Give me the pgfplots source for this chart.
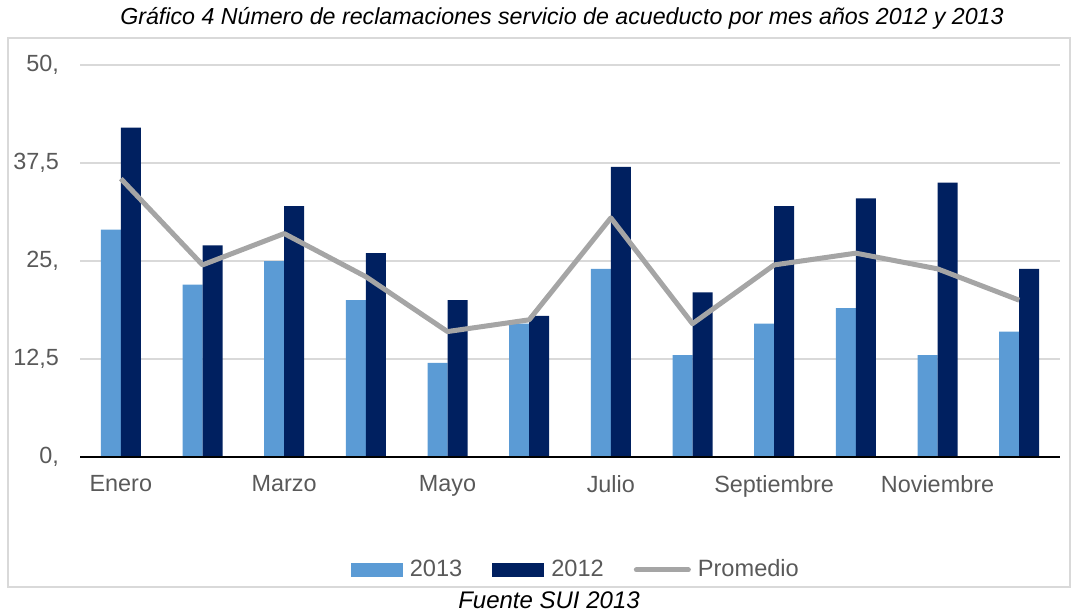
\documentclass[border=0pt]{standalone}
\usepackage{fontspec}
\setmainfont{Liberation Sans}
\usepackage{pgfplots}
\pgfplotsset{compat=1.18}
\definecolor{c2013}{RGB}{91,155,213}
\definecolor{c2012}{RGB}{0,32,96}
\definecolor{cprom}{RGB}{165,165,165}
\definecolor{cgrid}{RGB}{217,217,217}
\definecolor{ctxt}{RGB}{89,89,89}
\pgfplotstableread{
x y2013 y2012 prom
0 29 42 35.5
1 22 27 24.5
2 25 32 28.5
3 20 26 23
4 12 20 16
5 17 18 17.5
6 24 37 30.5
7 13 21 17
8 17 32 24.5
9 19 33 26
10 13 35 24
11 16 24 20
}\datatable
\begin{document}
\begin{tikzpicture}[x=0.5pt,y=0.5pt]
\path[use as bounding box] (0,0) rectangle (1079,611);
\draw[cgrid, line width=0.6pt] (8,573) rectangle (1070,24);
\node[font=\itshape\fontsize{11.6}{13}\selectfont] at (562,593) {Gráfico 4 Número de reclamaciones servicio de acueducto por mes años 2012 y 2013};
\node[font=\itshape\fontsize{12}{13}\selectfont] at (549,11) {Fuente SUI 2013};
\begin{axis}[
  at={(40pt,77pt)}, anchor=south west,
  scale only axis, width=490pt, height=196pt,
  xmin=-0.5, xmax=11.5, ymin=0, ymax=50,
  ytick={0,12.5,25,37.5,50},
  yticklabels={{0,},{12,5},{25,},{37,5},{50,}},
  xtick={0,2,4,6,8,10},
  xticklabels={Enero,Marzo,Mayo,Julio,Septiembre,Noviembre},
  ymajorgrids, grid style={cgrid, line width=0.75pt},
  axis line style={draw=none},
  major tick length=0pt,
  tick label style={font=\fontsize{11.7}{13}\selectfont, text=ctxt},
  yticklabel style={xshift=-7pt},
  xticklabel style={yshift=-5.5pt},
  clip=false,
  legend style={at={(0.507,-0.288)}, anchor=center, draw=none, fill=none,
    legend columns=3, font=\fontsize{11.8}{13}\selectfont, text=ctxt,
    /tikz/every even column/.append style={column sep=13pt},
    /tikz/every odd column/.append style={column sep=1.5pt},
    inner sep=0pt},
  legend cell align=left,
]
\addplot[ybar, bar width=10pt, bar shift=-5pt, fill=c2013, draw=none,
  legend image code/.code={\fill[c2013] (0pt,-3.5pt) rectangle (26pt,3.5pt);}]
  table[x=x, y=y2013] {\datatable};
\addlegendentry{2013}
\addplot[ybar, bar width=10pt, bar shift=5pt, fill=c2012, draw=none,
  legend image code/.code={\fill[c2012] (0pt,-3.5pt) rectangle (26pt,3.5pt);}]
  table[x=x, y=y2012] {\datatable};
\addlegendentry{2012}
\addplot[cprom, line width=2.5pt, sharp plot, no marks, line join=round,
  legend image code/.code={\draw[cprom, line width=2.5pt, line cap=round] (1pt,0pt) -- (27pt,0pt);}]
  table[x=x, y=prom] {\datatable};
\addlegendentry{Promedio}
\draw[black, line width=1pt] (rel axis cs:0,0) -- (rel axis cs:1,0);
\end{axis}
\end{tikzpicture}
\end{document}
